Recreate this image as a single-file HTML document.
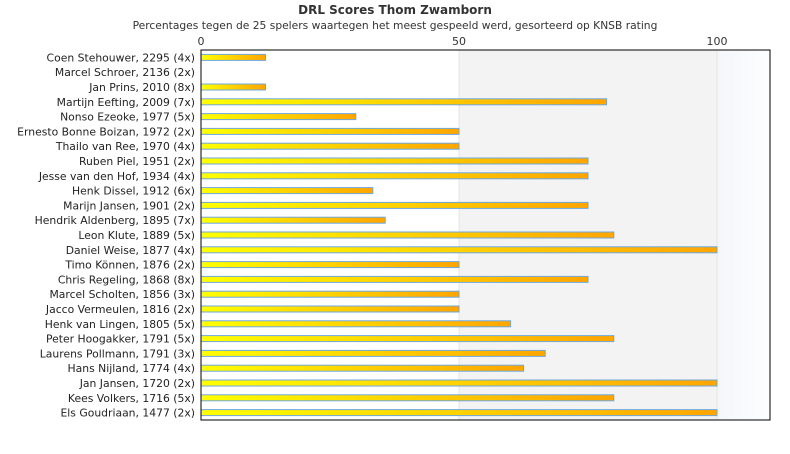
<!DOCTYPE html>
<html><head><meta charset="utf-8"><style>
body{margin:0;background:#fff;font-family:"DejaVu Sans","Liberation Sans",sans-serif;}
</style></head><body>
<svg width="790" height="450" xmlns="http://www.w3.org/2000/svg">
<defs>
<linearGradient id="g" x1="0" x2="1" y1="0" y2="0"><stop offset="0" stop-color="#ffff00"/><stop offset="1" stop-color="#ffa500"/></linearGradient>
<linearGradient id="bg3" x1="0" x2="1"><stop offset="0" stop-color="#f4f7fa"/><stop offset="1" stop-color="#fcfdfe"/></linearGradient>
</defs>
<text x="395" y="14" text-anchor="middle" font-size="12" font-weight="bold" fill="#333">DRL Scores Thom Zwamborn</text>
<text x="395" y="29" text-anchor="middle" font-size="10.7" fill="#333">Percentages tegen de 25 spelers waartegen het meest gespeeld werd, gesorteerd op KNSB rating</text>
<g id="plot"></g>
</svg>
<script>
const players=["Coen Stehouwer, 2295 (4x)","Marcel Schroer, 2136 (2x)","Jan Prins, 2010 (8x)","Martijn Eefting, 2009 (7x)","Nonso Ezeoke, 1977 (5x)","Ernesto Bonne Boizan, 1972 (2x)","Thailo van Ree, 1970 (4x)","Ruben Piel, 1951 (2x)","Jesse van den Hof, 1934 (4x)","Henk Dissel, 1912 (6x)","Marijn Jansen, 1901 (2x)","Hendrik Aldenberg, 1895 (7x)","Leon Klute, 1889 (5x)","Daniel Weise, 1877 (4x)","Timo Können, 1876 (2x)","Chris Regeling, 1868 (8x)","Marcel Scholten, 1856 (3x)","Jacco Vermeulen, 1816 (2x)","Henk van Lingen, 1805 (5x)","Peter Hoogakker, 1791 (5x)","Laurens Pollmann, 1791 (3x)","Hans Nijland, 1774 (4x)","Jan Jansen, 1720 (2x)","Kees Volkers, 1716 (5x)","Els Goudriaan, 1477 (2x)"];
const scores=[12.5,0,12.5,78.6,30,50,50,75,75,33.3,75,35.7,80,100,50,75,50,50,60,80,66.7,62.5,100,80,100];
const ticks=[0,50,100];
const L=201,R=770,T=50,B=420,MAX=(R-L)/5.16;
const x=v=>L+v/MAX*(R-L);
const band=(B-T)/players.length;
const yc=i=>T+band*(i+0.5);
const NS="http://www.w3.org/2000/svg";
const g=document.getElementById('plot');
function mk(t,a){const e=document.createElementNS(NS,t);for(const k in a)e.setAttribute(k,a[k]);g.appendChild(e);return e;}
let e;
e=mk('rect',{x:x(50),y:T,width:x(100)-x(50),height:B-T,fill:'#f3f3f3'});


e=mk('rect',{x:x(100),y:T,width:R-x(100),height:B-T,fill:'url(#bg3)'});


ticks.forEach(t=>{
 e=mk('line',{x1:x(t),x2:x(t),y1:T,y2:B,stroke:'#e4e4e4'});
 
 
 e=mk('text',{x:x(t),y:T-5,'text-anchor':'middle','font-size':11,fill:'#333'});e.textContent=t;
 
 
});
players.forEach((p,i)=>{
 e=mk('text',{x:195,y:yc(i)+4,'text-anchor':'end','font-size':10.8,fill:'#222'});e.textContent=p;
 
 
 if(scores[i]>0){
  e=mk('rect',{x:x(0),y:yc(i)-3,width:x(scores[i])-x(0),height:6,fill:'url(#g)',stroke:'#6fa8dc','stroke-width':1});
  
  
 }
});
e=mk('rect',{x:L,y:T,width:R-L,height:B-T,fill:'none',stroke:'#000','stroke-width':1});


</script>
</body></html>
